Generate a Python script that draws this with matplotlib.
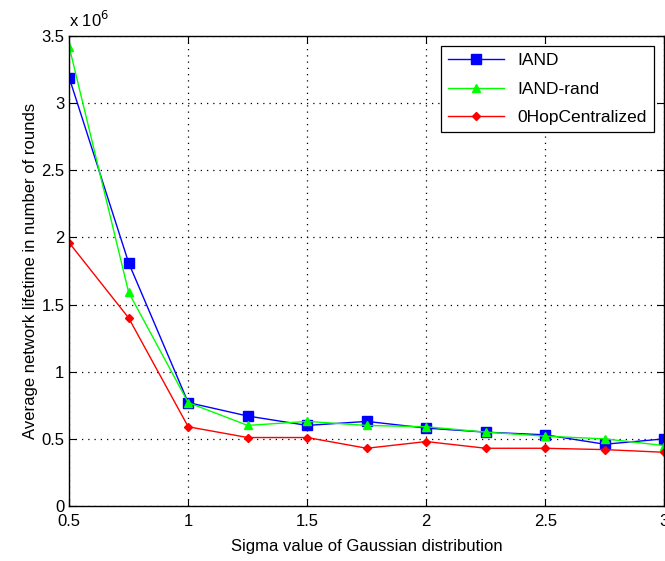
import matplotlib.pyplot as plt
from matplotlib.ticker import FuncFormatter

plt.rcParams['font.family'] = ['Liberation Sans', 'DejaVu Sans']

sigma = [0.5, 0.75, 1.0, 1.25, 1.5, 1.75, 2.0, 2.25, 2.5, 2.75, 3.0]
# lifetime values, in units of 1e6 rounds
iand      = [3.19, 1.81, 0.77, 0.67, 0.60, 0.63, 0.58, 0.55, 0.53, 0.46, 0.50]
iand_rand = [3.42, 1.59, 0.77, 0.60, 0.63, 0.60, 0.59, 0.55, 0.52, 0.50, 0.45]
ohop      = [1.96, 1.40, 0.59, 0.51, 0.51, 0.43, 0.48, 0.43, 0.43, 0.42, 0.40]

fig = plt.figure(figsize=(6.65, 5.61), dpi=100)
ax = fig.add_axes([0.104, 0.098, 0.895, 0.838])

ax.plot(sigma, iand, color='blue', marker='s', markersize=7, lw=1, label='IAND')
ax.plot(sigma, iand_rand, color='#00ff00', marker='^', markersize=6, lw=1, label='IAND-rand')
ax.plot(sigma, ohop, color='red', marker='D', markersize=4.5, lw=1, label='0HopCentralized')

ax.set_xlim(0.5, 3)
ax.set_ylim(0, 3.5)
ax.set_xticks([0.5, 1, 1.5, 2, 2.5, 3])
ax.set_yticks([0, 0.5, 1, 1.5, 2, 2.5, 3, 3.5])
fmt = FuncFormatter(lambda v, p: '%g' % v)
ax.xaxis.set_major_formatter(fmt)
ax.yaxis.set_major_formatter(fmt)
ax.tick_params(direction='in', top=True, right=True, labelsize=12, length=5)
ax.tick_params(axis='x', pad=6)
ax.grid(True, color='black', linestyle=(0, (1, 4)), lw=0.9)
for s in ax.spines.values():
    s.set_linewidth(1)

ax.text(0.0, 1.012, 'x 10$^6$', transform=ax.transAxes, fontsize=12, ha='left', va='bottom')

ax.set_xlabel('Sigma value of Gaussian distribution', fontsize=12, labelpad=7)
ax.set_ylabel('Average network lifetime in number of rounds', fontsize=12, labelpad=2)

leg = ax.legend(loc='upper right', fontsize=12.5, fancybox=False, edgecolor='black',
                framealpha=1, borderaxespad=0.6, handlelength=3.2, labelspacing=0.75)
leg.get_frame().set_linewidth(0.9)

fig.savefig('out.png', dpi=100)
